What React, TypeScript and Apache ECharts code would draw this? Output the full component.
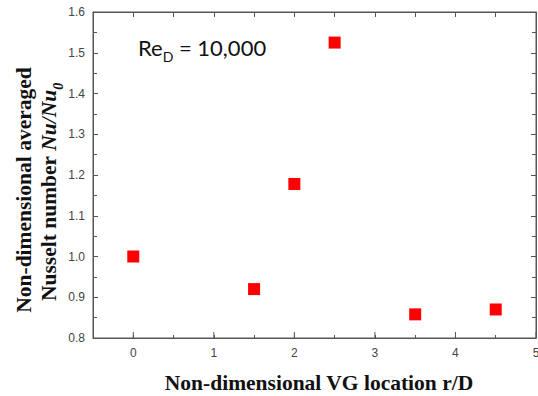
import React, { useEffect, useRef } from "react";
import * as echarts from "echarts";

const xValues = [0, 1.5, 2, 2.5, 3.5, 4.5];
const yValues = [1.0, 0.92, 1.178, 1.525, 0.858, 0.87];
const xTickLabels = [0, 1, 2, 3, 4, 5];
const annotation = "Re";
const xTitle = "Non-dimensional VG location r/D";
const yTitleLine1 = "Non-dimensional averaged";
const yTitleLine2 = "Nusselt number ";

const axisColor = "#555";

function xAx(position: string, tickLen: number, labels: boolean) {
  return {
    type: "value",
    min: -0.5,
    max: 5,
    interval: 0.5,
    position,
    splitLine: { show: false },
    axisLine: { show: true, onZero: false, lineStyle: { color: axisColor, width: 1 } },
    axisTick: { show: true, inside: true, length: tickLen, lineStyle: { color: axisColor } },
    axisLabel: labels
      ? {
          show: true,
          color: "#444",
          fontFamily: "Liberation Sans, Arial, sans-serif",
          fontSize: 12,
          margin: 9,
          formatter: (v: number) => (Math.abs(v - Math.round(v)) < 1e-6 ? String(Math.round(v)) : ""),
        }
      : { show: false },
  };
}

function yAx(position: string, labels: boolean) {
  return {
    type: "value",
    min: 0.8,
    max: 1.6,
    interval: 0.1,
    position,
    splitLine: { show: false },
    axisLine: { show: true, onZero: false, lineStyle: { color: axisColor, width: 1 } },
    axisTick: { show: true, inside: true, length: 5, lineStyle: { color: axisColor } },
    minorTick: { show: true, splitNumber: 2, length: 4, lineStyle: { color: axisColor } },
    axisLabel: labels
      ? {
          show: true,
          color: "#444",
          fontFamily: "Liberation Sans, Arial, sans-serif",
          fontSize: 12,
          margin: 8,
          formatter: (v: number) => v.toFixed(1),
        }
      : { show: false },
  };
}

export default function App() {
  const ref = useRef<HTMLDivElement>(null);
  useEffect(() => {
    const chart = echarts.init(ref.current!, null, { renderer: "svg" });
    chart.setOption({
      animation: false,
      backgroundColor: "#fff",
      grid: {
        left: 93,
        right: 2,
        top: 12,
        bottom: 58,
        outerBoundsMode: "none",
        containLabel: false,
        show: true,
        borderColor: axisColor,
        borderWidth: 1,
        backgroundColor: "transparent",
      },
      xAxis: [xAx("bottom", 3, true), xAx("top", 5, false)],
      yAxis: [yAx("left", true), yAx("right", false)],
      series: [
        {
          type: "scatter",
          xAxisIndex: 0,
          yAxisIndex: 0,
          symbol: "rect",
          symbolSize: [1, 6],
          symbolOffset: [0, -3],
          silent: true,
          itemStyle: { color: axisColor, opacity: 1 },
          data: xTickLabels.map((x) => [x, 0.8]),
          clip: false,
        },
        {
          type: "scatter",
          xAxisIndex: 0,
          yAxisIndex: 0,
          symbol: "rect",
          symbolSize: 12,
          itemStyle: { color: "#ff0000", opacity: 1 },
          data: xValues.map((x, i) => [x, yValues[i]]),
        },
      ],
      graphic: [
        {
          type: "text",
          left: 138,
          top: 36,
          style: {
            text: "{r|" + annotation + "}{s|D}{r| = 10,000}",
            rich: {
              r: { fontFamily: "Lato, 'Open Sans', sans-serif", fontSize: 22, fill: "#111", verticalAlign: "bottom" },
              s: { fontFamily: "Lato, 'Open Sans', sans-serif", fontSize: 14, fill: "#111", verticalAlign: "bottom", padding: [0, 0, -5, 0] },
            },
          },
        },
        {
          type: "text",
          x: 319,
          y: 383,
          style: {
            text: xTitle,
            fontFamily: "'Liberation Serif', 'Times New Roman', serif",
            fontWeight: "bold",
            fontSize: 21.5,
            fill: "#111",
            align: "center",
            verticalAlign: "middle",
          },
        },
        {
          type: "text",
          x: 24,
          y: 190,
          rotation: Math.PI / 2,
          style: {
            text: yTitleLine1,
            fontFamily: "'Liberation Serif', 'Times New Roman', serif",
            fontWeight: "bold",
            fontSize: 21.5,
            fill: "#111",
            align: "center",
            verticalAlign: "middle",
          },
        },
        {
          type: "text",
          x: 49,
          y: 192,
          rotation: Math.PI / 2,
          style: {
            text: "{b|" + yTitleLine2 + "}{i|Nu/Nu}{sub|0}",
            align: "center",
            verticalAlign: "middle",
            rich: {
              b: { fontFamily: "'Liberation Serif', serif", fontWeight: "bold", fontSize: 21.5, fill: "#111", verticalAlign: "bottom" },
              i: { fontFamily: "'Liberation Serif', serif", fontWeight: "bold", fontStyle: "italic", fontSize: 21.5, fill: "#111", verticalAlign: "bottom" },
              sub: { fontFamily: "'Liberation Serif', serif", fontWeight: "bold", fontStyle: "italic", fontSize: 14, fill: "#111", verticalAlign: "bottom", padding: [0, 0, -5, 0] },
            },
          },
        },
      ],
    });
    return () => chart.dispose();
  }, []);
  return <div ref={ref} style={{ width: 538, height: 396, position: "absolute", left: 0, top: 0 }} />;
}
